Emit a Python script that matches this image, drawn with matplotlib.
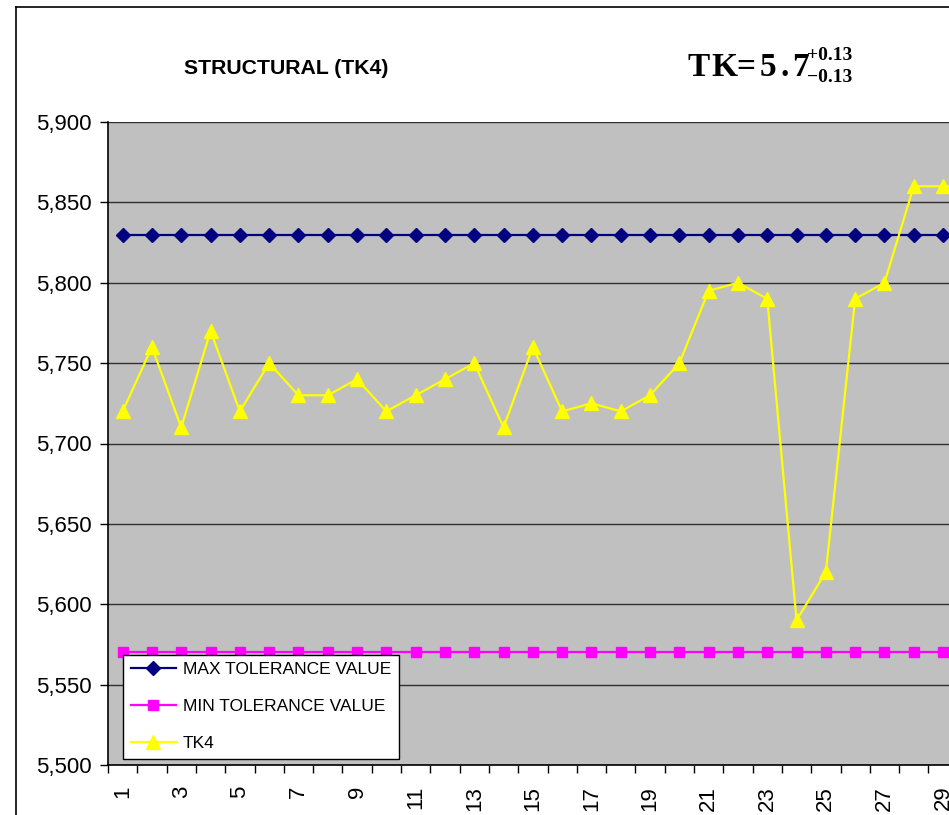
import matplotlib
matplotlib.use("Agg")
import matplotlib.pyplot as plt
from matplotlib.lines import Line2D
from matplotlib.ticker import FuncFormatter, FixedLocator

categories = list(range(1, 31))
max_tol = [5.83] * 30
min_tol = [5.57] * 30
tk4 = [5.720, 5.760, 5.710, 5.770, 5.720, 5.750, 5.730, 5.730, 5.740, 5.720,
       5.730, 5.740, 5.750, 5.710, 5.760, 5.720, 5.725, 5.720, 5.730, 5.750,
       5.795, 5.800, 5.790, 5.590, 5.620, 5.790, 5.800, 5.860, 5.860, 5.860]
x_ticklabels = [str(i) for i in range(1, 31, 2)]

W, H = 949, 815
fig = plt.figure(figsize=(W / 100, H / 100), dpi=100)
fig.patch.set_facecolor("white")

# outer chart border (only top/left visible in the crop)
fig.add_artist(Line2D([16 / W, 16 / W], [0, 1 - 7 / H], transform=fig.transFigure, color="black", lw=1.2))
fig.add_artist(Line2D([16 / W, 1], [1 - 7 / H, 1 - 7 / H], transform=fig.transFigure, color="black", lw=1.2))

left, top, bottom = 108, 122, 765
width = 879
ax = fig.add_axes([left / W, (H - bottom) / H, width / W, (bottom - top) / H])
ax.set_facecolor("#C0C0C0")

ax.plot(categories, max_tol, color="#000080", lw=1.6, marker="D", ms=7, mfc="#000080", mec="#000080",
        label="MAX TOLERANCE VALUE", clip_on=False, zorder=3)
ax.plot(categories, min_tol, color="#FF00FF", lw=1.6, marker="s", ms=7.5, mfc="#FF00FF", mec="#FF00FF",
        label="MIN TOLERANCE VALUE", clip_on=False, zorder=3)
ax.plot(categories, tk4, color="#FFFF00", lw=1.6, marker="^", ms=10, mfc="#FFFF00", mec="#FFFF00",
        label="TK4", clip_on=False, zorder=4)

ax.set_xlim(0.5, 30.5)
ax.set_ylim(5.5, 5.9)
yt = [5.5 + 0.05 * i for i in range(9)]
ax.set_yticks(yt)
ax.yaxis.set_major_formatter(FuncFormatter(lambda v, p: f"{v:.3f}".replace(".", ",")))
ax.grid(axis="y", color="#303030", lw=1.0)
ax.set_axisbelow(True)

ax.xaxis.set_major_locator(FixedLocator(list(range(1, 31, 2))))
ax.set_xticklabels(x_ticklabels, rotation=90, fontsize=16, family="Liberation Sans")
ax.tick_params(axis="x", which="major", length=0, pad=15)
ax.xaxis.set_minor_locator(FixedLocator([i + 0.5 for i in range(0, 31)]))
ax.tick_params(axis="x", which="minor", length=6, width=1, color="black", direction="out")
ax.tick_params(axis="y", length=6, width=1, color="black", direction="out", labelsize=16, pad=6)
for lab in ax.get_yticklabels():
    lab.set_family("Liberation Sans")

for s in ["top", "right"]:
    ax.spines[s].set_visible(False)
ax.spines["left"].set_color("black")
ax.spines["bottom"].set_color("black")
ax.spines["left"].set_linewidth(1.2)
ax.spines["bottom"].set_linewidth(1.2)

leg = ax.legend(loc="lower left", bbox_to_anchor=(123 / W, (H - 759) / H), bbox_transform=fig.transFigure,
                frameon=True, fancybox=False, edgecolor="black", facecolor="white", framealpha=1,
                prop={"family": "Liberation Sans", "size": 12.5}, handlelength=2.6, labelspacing=1.25,
                borderpad=0.45, handletextpad=0.4, borderaxespad=0)
leg.get_frame().set_linewidth(1.0)

fig.text(286 / W, 1 - 68 / H, "STRUCTURAL (TK4)", ha="center", va="center", fontsize=15.3,
         fontweight="bold", family="Liberation Sans")
# TK = 5.7 with tolerance superscript/subscript
base_y = 1 - 76 / H
for s, xc in [("T", 699), ("K", 724), ("=", 746), ("5", 768), (".", 785), ("7", 800)]:
    fig.text(xc / W, base_y, s, ha="center", va="baseline", fontsize=24,
             fontweight="bold", family="Liberation Serif")
fig.text(807 / W, 1 - 55 / H, "+0.13", ha="left", va="center", fontsize=14,
         fontweight="bold", family="Liberation Serif")
fig.text(807 / W, 1 - 78 / H, "\u22120.13", ha="left", va="center", fontsize=14,
         fontweight="bold", family="Liberation Serif")

fig.savefig("out.png", dpi=100)
